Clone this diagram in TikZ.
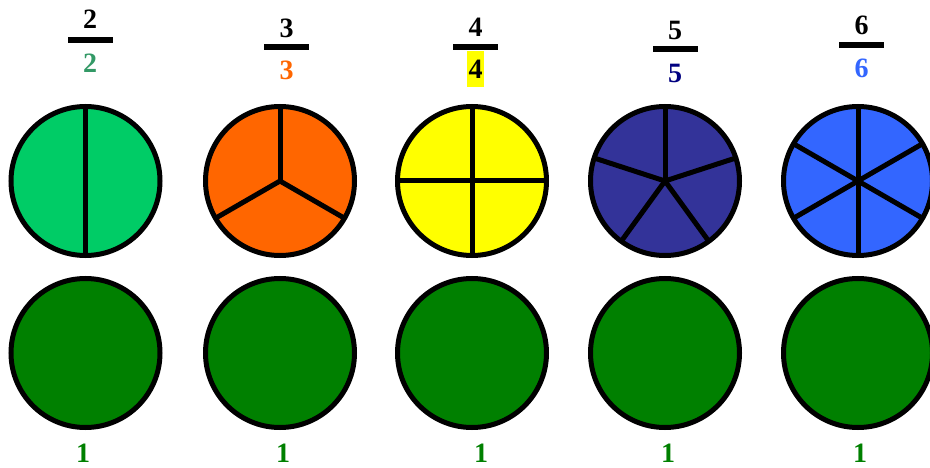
\documentclass[tikz,border=0pt]{standalone}
\usepackage{fontspec}
\setmainfont{Liberation Serif}
\usetikzlibrary{positioning}
\definecolor{halfgreen}{HTML}{00CC66}
\definecolor{thirdorange}{HTML}{FF6600}
\definecolor{quarteryellow}{HTML}{FFFF00}
\definecolor{fifthindigo}{HTML}{333399}
\definecolor{sixthblue}{HTML}{3366FF}
\definecolor{wholegreen}{HTML}{008000}
\definecolor{seagreen}{HTML}{339966}
\definecolor{navy}{HTML}{000080}
\tikzset{
  pie/.style={circle, draw=black, line width=5pt, minimum size=149pt, inner sep=0pt, outer sep=0pt},
  cut/.style={line width=5pt},
  digit/.style={font=\fontsize{28}{30}\selectfont\bfseries, inner sep=0pt},
  fracbar/.style={fill=black, minimum width=45pt, minimum height=6pt, inner sep=0pt},
}

\begin{document}
\begin{tikzpicture}[x=1pt, y=-1pt]
\useasboundingbox (0,0) rectangle (930,468);

% fractions
\node[fracbar] (bar2) at (90,40) {};
\node[digit] (num2) at (90,19) {2};
\node[digit, text=seagreen] (den2) at (90,63) {2};
\node[fracbar] (bar3) at (286.5,47) {};
\node[digit] (num3) at (286.5,28) {3};
\node[digit, text=thirdorange] (den3) at (286.5,70) {3};
\node[fracbar] (bar4) at (475.5,47) {};
\node[digit] (num4) at (475.5,27) {4};
\node[digit, fill=quarteryellow, inner xsep=1.5pt, minimum height=36pt] (den4) at (475.5,69) {4};
\node[fracbar] (bar5) at (675,49) {};
\node[digit] (num5) at (675,30) {5};
\node[digit, text=navy] (den5) at (675,73) {5};
\node[fracbar] (bar6) at (861.5,45) {};
\node[digit] (num6) at (861.5,25) {6};
\node[digit, text=sixthblue] (den6) at (861.5,68) {6};

% cut circles
\node[pie, fill=halfgreen] (pie2) at (85.5,181) {};
\draw[cut] (pie2.90) -- (pie2.270);
\node[pie, fill=thirdorange] (pie3) at (280,181) {};
\foreach \a in {90,210,330} \draw[cut] (pie3.center) -- (pie3.\a);
\node[pie, fill=quarteryellow] (pie4) at (472,181) {};
\draw[cut] (pie4.90) -- (pie4.270);
\draw[cut] (pie4.180) -- (pie4.0);
\node[pie, fill=fifthindigo] (pie5) at (665,181) {};
\foreach \a in {18,90,162,234,306} \draw[cut] (pie5.center) -- (pie5.\a);
\node[pie, fill=sixthblue] (pie6) at (858,181) {};
\foreach \a in {30,90,150} \draw[cut] (pie6.\a) -- (pie6.\a+180);

% whole circles
\foreach \x/\s [count=\i] in {85.5/-2.5,280/3,472/9,665/3,858/2} {
  \node[pie, fill=wholegreen] (whole\i) at (\x,353) {};
  \node[digit, text=wholegreen, below=16pt of whole\i, xshift=\s pt] (one\i) {1};
}
\end{tikzpicture}
\end{document}
